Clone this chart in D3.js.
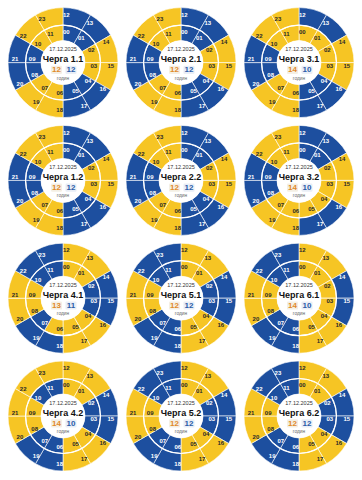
<!DOCTYPE html>
<html>
<head>
<meta charset="utf-8">
<script src="https://cdn.jsdelivr.net/npm/d3@7"></script>
<style>
  html, body { margin: 0; padding: 0; background: #fff; }
  svg { display: block; font-family: "Liberation Sans", Arial, sans-serif; }
</style>
</head>
<body>
<div id="chart"></div>
<script>
const dateLabel = "17.12.2025";
const unitLabel = "годин";
const innerHours = ["00","01","02","03","04","05","06","07","08","09","10","11"];
const outerHours = ["12","13","14","15","16","17","18","19","20","21","22","23"];

// 1 = світло є (жовтий), 0 = відключення (синій); години 00..23
const q11 = [0,0,1,1,0,0,1,1,0,0,1,1, 0,0,1,1,0,0,1,1,0,0,1,1];
const q21 = [0,0,1,1,0,0,1,1,0,0,1,1, 0,0,1,1,0,0,1,1,0,0,1,1];
const q31 = [1,1,1,1,0,0,1,1,0,0,1,1, 0,0,1,1,0,0,1,1,0,0,1,1];
const q12 = [0,0,1,1,0,0,1,1,0,0,1,1, 0,0,1,1,0,0,1,1,0,0,1,1];
const q22 = [0,0,1,1,0,0,1,1,0,0,1,1, 0,0,1,1,0,0,1,1,0,0,1,1];
const q32 = [0,0,1,1,1,1,1,1,0,0,1,1, 0,0,1,1,0,0,1,1,0,0,1,1];
const q41 = [1,1,0,0,1,1,1,0,1,1,0,0, 1,1,0,0,1,1,0,0,1,1,0,0];
const q51 = [1,1,0,0,1,1,0,0,1,1,0,0, 1,1,0,0,1,1,0,0,1,1,0,0];
const q61 = [1,1,1,1,1,1,0,0,1,1,0,0, 1,1,0,0,1,1,0,0,1,1,0,0];
const q42 = [1,1,0,0,1,1,0,0,1,1,0,0, 1,1,0,0,1,1,0,0,1,1,1,1];
const q52 = [1,1,0,0,1,1,0,0,1,1,0,0, 1,1,0,0,1,1,0,0,1,1,0,0];
const q62 = [1,1,0,0,1,1,0,0,1,1,0,0, 1,1,0,0,1,1,0,0,1,1,0,0];

const queueNames = ["1.1","2.1","3.1","1.2","2.2","3.2","4.1","5.1","6.1","4.2","5.2","6.2"];
const queueData = [q11,q21,q31,q12,q22,q32,q41,q51,q61,q42,q52,q62];

const width = 362, height = 480;
const cols = 3;
const colStep = 118, rowStep = 117.8;
const origin = { x: 63, y: 62.6 };
const rCenter = 22, rMid = 37.5, rOuter = 55;

const yellow = "#f6c524", blue = "#1d4f9f";

const svg = d3.select("#chart").append("svg")
  .attr("width", width)
  .attr("height", height);

const angle = d3.scaleLinear().domain([0, 12]).range([0, 2 * Math.PI]);

queueNames.forEach((name, qi) => {
  const values = queueData[qi];
  const col = qi % cols, row = Math.floor(qi / cols);
  const g = svg.append("g")
    .attr("transform", `translate(${origin.x + col * colStep},${origin.y + row * rowStep})`);

  const rings = [
    { hours: innerHours, vals: values.slice(0, 12), r0: rCenter, r1: rMid, rl: 31 },
    { hours: outerHours, vals: values.slice(12), r0: rMid, r1: rOuter, rl: 48 }
  ];

  rings.forEach(ring => {
    const arc = d3.arc()
      .innerRadius(ring.r0)
      .outerRadius(ring.r1)
      .startAngle((d, i) => angle(i))
      .endAngle((d, i) => angle(i + 1));

    g.append("g").selectAll("path")
      .data(ring.vals)
      .enter()
      .append("path")
      .attr("d", (d, i) => arc(d, i))
      .attr("fill", d => d ? yellow : blue)
      .attr("stroke", "#fff")
      .attr("stroke-width", 0.6);

    // hour labels sit just after the start of each hour
    g.append("g").selectAll("text")
      .data(ring.hours)
      .enter()
      .append("text")
      .attr("x", (d, i) => ring.rl * Math.sin(angle(i) + 3.3 / ring.rl))
      .attr("y", (d, i) => -ring.rl * Math.cos(angle(i) + 3.3 / ring.rl))
      .attr("text-anchor", "middle")
      .attr("dominant-baseline", "central")
      .attr("font-size", 6)
      .attr("font-weight", "bold")
      .attr("fill", (d, i) => ring.vals[i] ? "#2a2a2a" : "#fff")
      .text(d => d);
  });

  g.append("circle")
    .attr("r", rMid)
    .attr("fill", "none")
    .attr("stroke", "#fff")
    .attr("stroke-width", 1.2);

  g.append("circle")
    .attr("r", rCenter)
    .attr("fill", "#fff");

  const onHours = d3.sum(values);
  const offHours = values.length - onHours;

  g.append("text")
    .attr("y", -13.3)
    .attr("text-anchor", "middle")
    .attr("dominant-baseline", "central")
    .attr("font-size", 5.5)
    .attr("fill", "#333")
    .text(dateLabel);

  g.append("text")
    .attr("y", -3.2)
    .attr("text-anchor", "middle")
    .attr("dominant-baseline", "central")
    .attr("font-size", 9)
    .attr("font-weight", "bold")
    .attr("fill", "#111")
    .text("Черга " + name);

  const counts = [
    { v: onHours, x: -6.5, color: "#e0892b", bg: "#f4efe4" },
    { v: offHours, x: 8, color: "#2b5ca8", bg: "#e9eef6" }
  ];
  counts.forEach(c => {
    g.append("rect")
      .attr("x", c.x - 5.5)
      .attr("y", 3.2)
      .attr("width", 11)
      .attr("height", 8.2)
      .attr("rx", 1.2)
      .attr("fill", c.bg);
    g.append("text")
      .attr("x", c.x)
      .attr("y", 7.4)
      .attr("text-anchor", "middle")
      .attr("dominant-baseline", "central")
      .attr("font-size", 8)
      .attr("font-weight", "bold")
      .attr("fill", c.color)
      .text(c.v);
  });

  g.append("text")
    .attr("y", 15.5)
    .attr("text-anchor", "middle")
    .attr("dominant-baseline", "central")
    .attr("font-size", 4.8)
    .attr("fill", "#666")
    .text(unitLabel);
});
</script>
</body>
</html>
